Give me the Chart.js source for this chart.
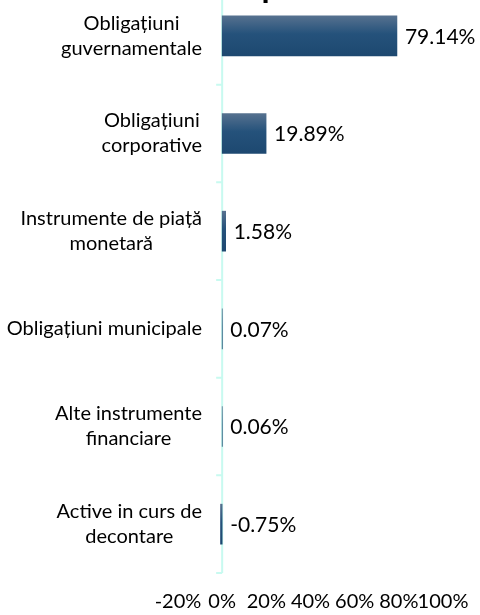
<!DOCTYPE html>
<html>
<head>
<meta charset="utf-8">
<script src="https://cdn.jsdelivr.net/npm/chart.js@4/dist/chart.umd.min.js"></script>
<style>
  html, body { margin: 0; padding: 0; background: #fff; overflow: hidden; }
  #wrap { position: absolute; left: 0; top: -70px; width: 480px; height: 685px; }
</style>
</head>
<body>
<div id="wrap"><canvas id="myChart" width="480" height="685"></canvas></div>
<script>
// date
const titleText = 'Structura portofoliului';
const categories = [
  ['Obligațiuni', 'guvernamentale'],
  ['Obligațiuni', 'corporative'],
  ['Instrumente de piață', 'monetară'],
  ['Obligațiuni municipale'],
  ['Alte instrumente', 'financiare'],
  ['Active in curs de', 'decontare']
];
const values = [79.14, 19.89, 1.58, 0.07, 0.06, -0.75];
const xTicks = [-20, 0, 20, 40, 60, 80, 100];

const FONT = 'Lato';
const axisColor = '#c8faf0';

// gradient pe fiecare bara
function barFill(c) {
  const chart = c.chart;
  if (!chart.chartArea) return '#1f4e79';
  const y = chart.scales.y.getPixelForValue(c.dataIndex);
  const g = chart.ctx.createLinearGradient(0, y - 20, 0, y + 20);
  g.addColorStop(0, '#56718f');
  g.addColorStop(0.45, '#25527b');
  g.addColorStop(1, '#1d4870');
  return g;
}

// axa verticala la zero + etichete categorii
const axisPlugin = {
  id: 'zeroAxis',
  beforeDatasetsDraw(chart) {
    const { ctx, scales } = chart;
    const x0 = scales.x.getPixelForValue(0);
    const ys = scales.y;
    const band = (ys.bottom - ys.top) / categories.length;
    ctx.save();
    ctx.strokeStyle = axisColor;
    ctx.lineWidth = 2;
    ctx.beginPath();
    ctx.moveTo(x0, ys.top);
    ctx.lineTo(x0, ys.bottom);
    for (let i = 1; i <= categories.length; i++) {
      const yy = ys.top + band * i;
      ctx.moveTo(x0 - 6, yy);
      ctx.lineTo(x0, yy);
    }
    ctx.stroke();
    ctx.restore();
  },
  afterDraw(chart) {
    const { ctx, scales } = chart;
    const right = 202;
    const lineH = 25;
    ctx.save();
    ctx.font = '20px ' + FONT;
    ctx.fillStyle = '#000';
    ctx.textAlign = 'center';
    ctx.textBaseline = 'middle';
    categories.forEach((lines, i) => {
      const y = scales.y.getPixelForValue(i);
      const w = Math.max(...lines.map(l => ctx.measureText(l).width));
      const cx = right - w / 2;
      const y0 = y - (lines.length - 1) * lineH / 2;
      lines.forEach((l, k) => ctx.fillText(l, cx, y0 + k * lineH));
    });
    // etichete valori
    ctx.font = '21px ' + FONT;
    ctx.textAlign = 'left';
    values.forEach((v, i) => {
      const x = scales.x.getPixelForValue(Math.max(v, 0)) + 8;
      const y = scales.y.getPixelForValue(i);
      ctx.fillText(v.toFixed(2) + '%', x, y + 1);
    });
    ctx.restore();
  }
};

const ctx = document.getElementById('myChart').getContext('2d');
const myChart = new Chart(ctx, {
  type: 'bar',
  data: {
    labels: categories,
    datasets: [{
      data: values,
      backgroundColor: barFill,
      borderWidth: 0,
      barThickness: 40
    }]
  },
  options: {
    indexAxis: 'y',
    responsive: false,
    animation: false,
    layout: { padding: { left: 0, right: 37, top: 0, bottom: 0 } },
    plugins: {
      legend: { display: false },
      tooltip: { enabled: false },
      title: {
        display: true,
        text: titleText,
        align: 'end',
        color: '#000',
        font: { family: FONT, size: 33, weight: 'bold', lineHeight: 1.2 },
        padding: { top: 37.5, bottom: -20.1 }
      }
    },
    scales: {
      x: {
        min: -20,
        max: 100,
        afterBuildTicks(scale) {
          scale.ticks = xTicks.map(v => ({ value: v }));
        },
        afterFit(scale) {
          scale.height = 42;
          scale.paddingLeft = 0;
          scale.paddingRight = 0;
        },
        grid: { display: false, drawTicks: false },
        border: { display: false },
        ticks: {
          autoSkip: false,
          maxRotation: 0,
          padding: 17,
          color: '#000',
          font: { family: FONT, size: 20 },
          callback: v => v + '%'
        }
      },
      y: {
        afterFit(scale) { scale.width = 178; },
        grid: { display: false },
        border: { display: false },
        ticks: { display: false }
      }
    }
  },
  plugins: [axisPlugin]
});
</script>
</body>
</html>
